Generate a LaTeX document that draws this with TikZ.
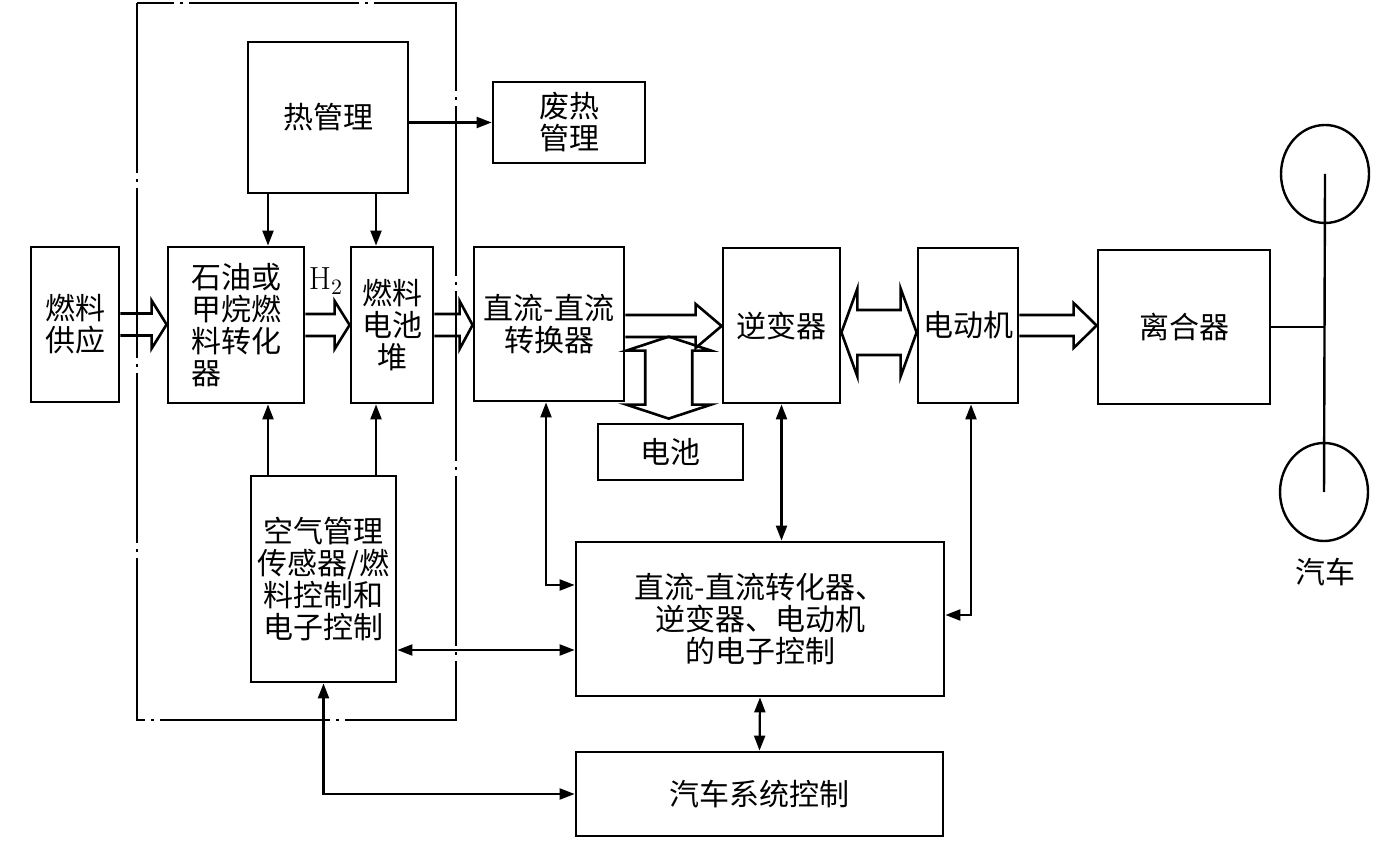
\documentclass[tikz,border=0pt]{standalone}
\usepackage{fontspec}
\newfontfamily\cjk{Noto Sans CJK SC}
\usetikzlibrary{arrows.meta,calc,shapes.geometric}

% hollow arrows: from, to, shaft half width, head half width, head length
\newcommand{\fatarrow}[5]{%
  \draw[fat] let \p1=(#1), \p2=(#2) in
    (\x1,\y1+#3) -- (\x2-#5,\y1+#3) -- (\x2-#5,\y1+#4) -- (\x2,\y1)
    -- (\x2-#5,\y1-#4) -- (\x2-#5,\y1-#3) -- (\x1,\y1-#3);}
\newcommand{\fatdouble}[5]{%
  \draw[fat] let \p1=(#1), \p2=(#2) in
    (\x1,\y1) -- (\x1+#5,\y1+#4) -- (\x1+#5,\y1+#3) -- (\x2-#5,\y1+#3)
    -- (\x2-#5,\y1+#4) -- (\x2,\y1) -- (\x2-#5,\y1-#4) -- (\x2-#5,\y1-#3)
    -- (\x1+#5,\y1-#3) -- (\x1+#5,\y1-#4) -- cycle;}
\newcommand{\fatdoublev}[5]{%
  \draw[fat] let \p1=(#1), \p2=(#2) in
    (\x1,\y1) -- (\x1+#4,\y1-#5) -- (\x1+#3,\y1-#5) -- (\x1+#3,\y2+#5)
    -- (\x1+#4,\y2+#5) -- (\x1,\y2) -- (\x1-#4,\y2+#5) -- (\x1-#3,\y2+#5)
    -- (\x1-#3,\y1-#5) -- (\x1-#4,\y1-#5) -- cycle;}

\begin{document}
\begin{tikzpicture}[
    x=0.5pt, y=-0.5pt,
    box/.style={draw, line width=1.4pt, inner sep=0pt, align=center,
                font=\cjk\fontsize{15}{16}\selectfont},
    arrow/.style={-{Triangle[length=7.5pt,width=5.5pt]}, line width=1.1pt},
    twoway/.style={{Triangle[length=7.5pt,width=5.5pt]}-{Triangle[length=7.5pt,width=5.5pt]},
                   line width=1.1pt},
    fat/.style={draw, line width=1.3pt, line join=miter},
    frame/.style={line width=1.1pt, dash pattern=on 85pt off 3pt on 1.5pt off 3pt},
    wheel/.style={draw, ellipse, line width=1.2pt, inner sep=0pt,
                  minimum width=44pt, minimum height=49pt},
]
\useasboundingbox (0,0) rectangle (1384,854);

% fuel cell subsystem frame
\draw[frame] (137,3) rectangle (456,720);

% Blocks
\node[box, minimum width=80pt, minimum height=75.5pt] (heat) at (328,117.5) {热管理};
\node[box, minimum width=76pt, minimum height=40.5pt] (waste) at (569,122.5) {废热\\管理};
\node[box, minimum width=44pt, minimum height=77.5pt] (supply) at (75,324.5) {燃料\\供应};
\node[box, minimum width=68pt, minimum height=78pt, align=left] (reformer) at (236,325)
    {石油或\\甲烷燃\\料转化\\器};
\node[box, minimum width=41pt, minimum height=78pt] (stack) at (392,325) {燃料\\电池\\堆};
\node[box, minimum width=75pt, minimum height=77pt] (dcdc) at (549,324) {直流-直流\\转换器};
\node[box, minimum width=58.5pt, minimum height=77.5pt] (inverter) at (781.5,325.5) {逆变器};
\node[box, minimum width=50pt, minimum height=77.5pt] (motor) at (968,325.5) {电动机};
\node[box, minimum width=86pt, minimum height=77pt] (clutch) at (1184,327) {离合器};
\node[box, minimum width=72.5pt, minimum height=28pt] (battery) at (670.5,452) {电池};
\node[box, minimum width=72.5pt, minimum height=103pt] (air) at (323.5,579)
    {空气管理\\传感器/燃\\料控制和\\电子控制};
\node[box, minimum width=184pt, minimum height=77pt] (ectrl) at (760,619)
    {直流-直流转化器、\\逆变器、电动机\\的电子控制};
\node[box, minimum width=183.5pt, minimum height=42pt] (vsys) at (759.5,794) {汽车系统控制};
\node[font=\fontsize{16}{17}\selectfont] (hlabel) at (326,281) {H$_2$};

% Wheels
\node[wheel] (wtop) at (1325,174) {};
\node[wheel] (wbot) at (1324,492) {};
\node[font=\cjk\fontsize{15}{16}\selectfont] (car) at (1325,572) {汽车};
\draw[line width=1.2pt] (wtop.center) -- (wbot.center);
\draw[line width=1.2pt] (clutch.east) -- (clutch.east -| wtop.center);

% Power flow
\fatarrow{supply.east}{reformer.west}{5.5pt}{12pt}{7.5pt}
\fatarrow{reformer.east}{stack.west}{5.5pt}{12pt}{7.5pt}
\fatarrow{stack.east}{dcdc.west}{5.5pt}{12pt}{6.5pt}
\fatarrow{[yshift=-1pt]dcdc.east}{inverter.west}{5.5pt}{11pt}{13pt}
\fatdouble{[yshift=-3.5pt]inverter.east}{motor.west}{11.25pt}{22pt}{8pt}
\fatarrow{motor.east}{clutch.west}{5.25pt}{11.25pt}{11.5pt}
\coordinate (tap) at ($(dcdc.east)!0.45!(inverter.west)$);
\fatdoublev{[yshift=-6pt]tap}{[yshift=2pt]battery.north}{11.75pt}{21.25pt}{7pt}

% Thermal and air
\draw[arrow] (heat.east |- waste.west) -- (waste.west);
\draw[arrow] ([xshift=-30pt]heat.south) -- ([xshift=16pt]reformer.north);
\draw[arrow] ([xshift=24pt]heat.south) -- ([xshift=-8pt]stack.north);
\draw[arrow] ([xshift=-27.75pt]air.north) -- ([xshift=16pt]reformer.south);
\draw[arrow] ([xshift=26.25pt]air.north) -- ([xshift=-8pt]stack.south);

% Control links
\draw[twoway] ([xshift=-1.5pt]dcdc.south) |- ([yshift=17pt]ectrl.west);
\draw[twoway] (inverter.south) -- (inverter.south |- ectrl.north);
\draw[twoway] ([xshift=1.5pt]motor.south) |- ([yshift=2pt]ectrl.east);
\draw[twoway] ([yshift=-35.5pt]air.east) -- ([yshift=-15.5pt]ectrl.west);
\draw[twoway] (ectrl.south) -- (vsys.north);
\draw[twoway] (air.south) |- (vsys.west);

\end{tikzpicture}
\end{document}
